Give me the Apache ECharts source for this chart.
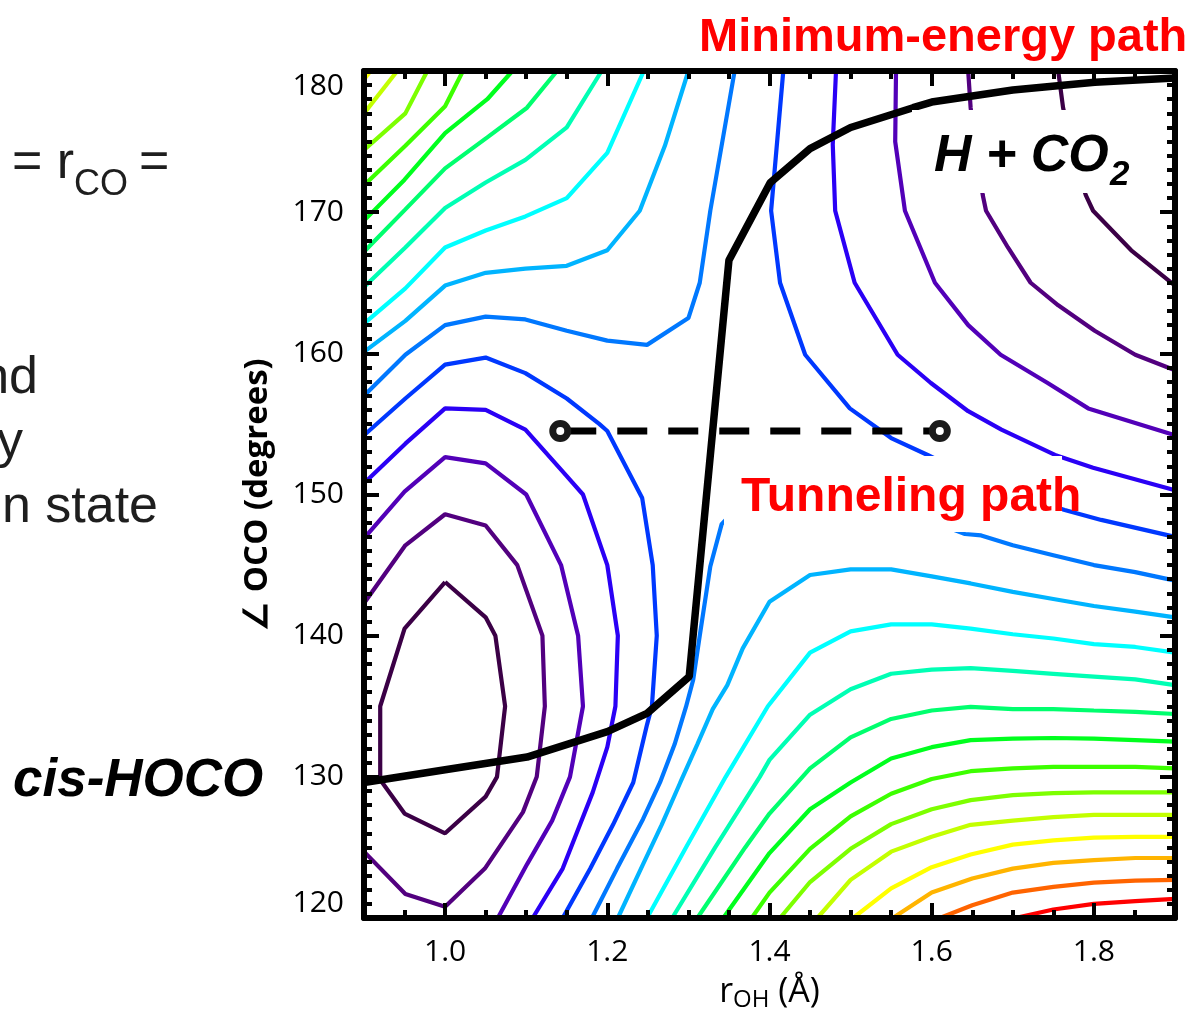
<!DOCTYPE html>
<html><head><meta charset="utf-8">
<script src="https://cdn.jsdelivr.net/npm/echarts@6/dist/echarts.min.js"></script>
<style>html,body{margin:0;padding:0;background:#fff}#c{width:1198px;height:1018px}</style>
</head><body><div id="c"></div>
<script>
// ---- axis ticks ----
const xMajorTicks = [1.0, 1.2, 1.4, 1.6, 1.8];
const xMinorTicks = [0.95, 1.05, 1.1, 1.15, 1.25, 1.3, 1.35, 1.45, 1.5, 1.55, 1.65, 1.7, 1.75, 1.85];
const yTickLabels = [120, 130, 140, 150, 160, 170, 180];

// ---- contour levels (r_OH in Å, angle OCO in degrees), lowest energy first ----
const cisL1 = [[1.0,143.8],[0.95,140.5],[0.92,135],[0.92,129.8],[0.95,127.4],[1.0,126.0],[1.05,128.6],[1.064,130.0],[1.074,135],[1.062,140],[1.05,141.3],[1.0,143.8]];
const hL1 = [[1.756,180],[1.762,177.4],[1.777,173.7],[1.79,171.2],[1.799,170.1],[1.846,167.3],[1.9,164.8]];

const cisL2 = [[0.9,142.3],[0.951,146.4],[1.0,148.6],[1.05,147.8],[1.089,145.0],[1.12,140],[1.123,135],[1.113,130],[1.096,127.5],[1.049,123.5],[1.0,120.8],[0.951,121.7],[0.9,124.7]];
const hL2 = [[1.645,180],[1.648,177.4],[1.656,173.7],[1.663,171.2],[1.667,170.1],[1.694,167.5],[1.722,165.0],[1.756,163.4],[1.801,161.6],[1.851,159.9],[1.9,158.8]];

const cisL3 = [[0.9,146.9],[0.95,150.2],[1.0,152.65],[1.05,152.2],[1.1,150],[1.143,145],[1.164,140],[1.17,135],[1.154,130],[1.132,126.9],[1.101,123.8],[1.065,120]];
const hL3 = [[1.556,180],[1.555,175],[1.567,170.1],[1.604,165],[1.645,162],[1.685,159.9],[1.743,157.9],[1.793,156.1],[1.9,154.2]];

const cisL4 = [[0.9,150.8],[0.951,153.6],[1.0,156.1],[1.05,156.0],[1.099,154.6],[1.15,151.3],[1.17,150],[1.2,145],[1.213,140],[1.21,135],[1.2,132.1],[1.182,128.9],[1.145,123.5],[1.108,120]];
const hL4 = [[1.482,180],[1.478,174.8],[1.481,170.1],[1.505,165],[1.558,159.9],[1.599,157.9],[1.645,155.9],[1.686,154.6],[1.752,152.8],[1.799,151.9],[1.9,150.3]];

const cisL5 = [[0.9,154.2],[0.951,156.8],[1.0,159.2],[1.05,159.7],[1.099,158.6],[1.15,156.8],[1.19,155],[1.2,154.5],[1.243,149.75],[1.256,145],[1.261,140],[1.255,135],[1.249,133.7],[1.232,129.6],[1.207,126.6],[1.179,123.5],[1.145,120]];
const hL5 = [[1.417,180],[1.402,170.1],[1.413,165],[1.444,159.9],[1.499,156.1],[1.55,154.0],[1.595,152.8],[1.647,151.3],[1.699,150.1],[1.764,148.9],[1.809,148.2],[1.9,147.0]];

const upL6 = [[0.9,157.0],[0.951,159.9],[1.0,162.0],[1.05,162.6],[1.099,162.4],[1.15,161.6],[1.2,160.9],[1.249,160.6],[1.3,162.5],[1.314,165],[1.327,170.1],[1.357,180]];
const loL6 = [[1.181,120],[1.212,123.5],[1.244,127.0],[1.265,129.6],[1.283,132.3],[1.297,134.95],[1.306,136.9],[1.314,140],[1.327,144.9],[1.341,147.9],[1.364,149.3],[1.4,148.9],[1.5,149.3],[1.6,148.1],[1.641,147.2],[1.661,147.1],[1.7,146.4],[1.75,145.7],[1.8,145.0],[1.851,144.5],[1.9,143.9]];

const upL7 = [[0.9,160.1],[0.951,162.3],[1.0,164.8],[1.05,165.7],[1.099,166.0],[1.15,166.2],[1.2,167.3],[1.24,170.1],[1.271,174.7],[1.3,180]];
const loL7 = [[1.213,120],[1.244,123.8],[1.267,126.6],[1.29,129.6],[1.311,132.3],[1.33,134.8],[1.348,136.5],[1.367,139.1],[1.4,142.4],[1.45,144.3],[1.5,144.7],[1.55,144.7],[1.6,144.2],[1.648,143.7],[1.7,143.1],[1.75,142.6],[1.8,142.1],[1.851,141.7],[1.9,141.3]];

const upL8 = [[0.9,162.1],[0.951,164.6],[1.0,167.5],[1.05,168.7],[1.099,169.7],[1.15,171.0],[1.2,174.2],[1.245,180]];
const loL8 = [[1.249,120],[1.297,125],[1.346,130],[1.398,135],[1.45,138.8],[1.5,140.3],[1.55,140.8],[1.6,140.8],[1.648,140.5],[1.7,140.1],[1.75,139.8],[1.8,139.4],[1.851,139.2],[1.9,138.8]];

const upL9 = [[0.9,164.7],[0.951,167.5],[1.0,170.3],[1.05,172.1],[1.099,173.7],[1.15,176.0],[1.193,180]];
const loL9 = [[1.28,120],[1.333,125],[1.388,130],[1.4,131.2],[1.45,134.4],[1.5,136.2],[1.55,137.3],[1.6,137.6],[1.648,137.7],[1.7,137.5],[1.75,137.3],[1.8,137.1],[1.851,136.9],[1.9,136.5]];

const upL10 = [[0.9,167.2],[0.951,170.2],[1.0,173.1],[1.052,175.3],[1.101,177.4],[1.138,180]];
const loL10 = [[1.311,120],[1.37,125],[1.4,127.4],[1.45,130.6],[1.5,132.8],[1.55,134.1],[1.6,134.7],[1.648,134.95],[1.7,134.8],[1.75,134.8],[1.8,134.7],[1.851,134.6],[1.9,134.45]];

const upL11 = [[0.9,169.4],[0.95,172.3],[1.0,175.6],[1.052,178.0],[1.083,180]];
const loL11 = [[1.343,120],[1.4,124.6],[1.45,127.7],[1.5,129.6],[1.55,131.3],[1.6,132.1],[1.648,132.6],[1.7,132.7],[1.75,132.75],[1.8,132.7],[1.851,132.6],[1.9,132.5]];

const upL12 = [[0.9,171.9],[0.951,174.7],[1.0,177.5],[1.022,180]];
const loL12 = [[1.378,120],[1.4,121.8],[1.45,124.9],[1.5,127.2],[1.55,128.8],[1.6,129.85],[1.648,130.4],[1.7,130.6],[1.75,130.7],[1.8,130.7],[1.851,130.7],[1.9,130.6]];

const upL13 = [[0.9,174.4],[0.951,177.0],[0.978,180]];
const loL13 = [[1.413,120],[1.45,122.55],[1.5,124.9],[1.55,126.65],[1.6,127.7],[1.648,128.35],[1.7,128.7],[1.75,128.85],[1.8,128.9],[1.851,128.9],[1.9,128.9]];

const upL14 = [[0.9,177.0],[0.941,180]];
const loL14 = [[1.459,120],[1.5,122.7],[1.55,124.7],[1.6,125.75],[1.648,126.6],[1.7,126.9],[1.75,127.15],[1.8,127.3],[1.851,127.3],[1.9,127.3]];

const upL15 = [[0.9,179.4],[0.908,180]];
const loL15 = [[1.503,120],[1.55,122.1],[1.6,123.6],[1.648,124.5],[1.7,125.2],[1.75,125.5],[1.8,125.7],[1.851,125.75],[1.9,125.75]];

const loL16 = [[1.552,120],[1.6,121.8],[1.65,122.8],[1.7,123.5],[1.75,123.9],[1.8,124.1],[1.851,124.25],[1.9,124.25]];
const loL17 = [[1.61,120],[1.65,120.9],[1.7,121.8],[1.75,122.2],[1.8,122.5],[1.851,122.65],[1.9,122.7]];
const loL18 = [[1.703,120],[1.75,120.6],[1.8,121.0],[1.851,121.2],[1.9,121.35]];

// minimum-energy path and tunneling path
const mepPath = [[0.9,129.6],[1.0,130.5],[1.101,131.4],[1.2,133.2],[1.249,134.5],[1.301,137.1],[1.35,166.6],[1.401,172.1],[1.45,174.5],[1.5,176.0],[1.577,177.4],[1.6,177.8],[1.7,178.65],[1.801,179.2],[1.9,179.5]];
const tunnelPath = [[1.142,154.5],[1.61,154.5]];

// ---- styles ----
const levelColors = ['#3b0046','#52007f','#5200b8','#2a00f5','#0038ff','#0078ff','#00b4ff','#00ffff','#00ffb4','#00ff6e','#00ff1e','#3cff00','#7dff00','#c3ff00','#ffff00','#ffb400','#ff6400','#ff0000'];
const contourPieces = [
  [cisL1, hL1], [cisL2, hL2], [cisL3, hL3], [cisL4, hL4], [cisL5, hL5],
  [upL6, loL6], [upL7, loL7], [upL8, loL8], [upL9, loL9], [upL10, loL10],
  [upL11, loL11], [upL12, loL12], [upL13, loL13], [upL14, loL14], [upL15, loL15],
  [loL16], [loL17], [loL18]
];

const series = [];
contourPieces.forEach((pieces, i) => {
  pieces.forEach(d => series.push({
    type: 'line', data: d, showSymbol: false, symbol: 'none', silent: true, z: 2,
    lineStyle: { color: levelColors[i], width: 4.2 }
  }));
});
series.push({
  type: 'line', data: mepPath, showSymbol: false, symbol: 'none', silent: true, z: 3,
  lineStyle: { color: '#000', width: 7.5 }
});
series.push({
  type: 'line', data: tunnelPath, symbol: 'circle', symbolSize: 15, showSymbol: true, silent: true, z: 4,
  lineStyle: { color: '#000', width: 7, type: [30, 21], dashOffset: 45 },
  itemStyle: { color: '#fff', borderColor: '#1a1a1a', borderWidth: 7 }
});

const lab = { fontFamily: 'Open Sans', fontSize: 30, color: '#000' };
const axLine = { show: true, lineStyle: { color: '#000', width: 6 } };
function xAx(pos, major, labels) {
  return {
    type: 'value', min: 0.9, max: 1.9, position: pos, z: 20,
    axisLine: major ? axLine : { show: false },
    axisTick: { show: true, inside: true, length: major ? 15 : 8, customValues: major ? xMajorTicks : xMinorTicks, lineStyle: { color: '#000', width: 4 } },
    axisLabel: labels ? Object.assign({ show: true, margin: 19, customValues: xMajorTicks, formatter: v => v.toFixed(1) }, lab) : { show: false },
    splitLine: { show: false }
  };
}
function yAx(pos, labels) {
  return {
    type: 'value', min: 120, max: 180, interval: 10, position: pos, z: 20,
    axisLine: axLine,
    axisTick: { show: true, inside: true, length: 15, lineStyle: { color: '#000', width: 4 } },
    minorTick: { show: true, splitNumber: 10, length: 8, lineStyle: { color: '#000', width: 4 } },
    axisLabel: labels ? Object.assign({ show: true, margin: 20, verticalAlignMinLabel: 'bottom', verticalAlignMaxLabel: 'top', formatter: v => yTickLabels.includes(v) ? String(v) : '' }, lab) : { show: false },
    splitLine: { show: false }, minorSplitLine: { show: false }
  };
}
const xAxes = [xAx('bottom', true, true), xAx('bottom', false, false), xAx('top', true, false), xAx('top', false, false)];
xAxes[0].name = '{r|r}{s|OH}{r| (Å)}';
xAxes[0].nameLocation = 'middle';
xAxes[0].nameGap = 54;
xAxes[0].nameTextStyle = { rich: {
  r: { fontFamily: 'Open Sans', fontSize: 34, color: '#000', lineHeight: 40 },
  s: { fontFamily: 'Open Sans', fontSize: 24, color: '#000', lineHeight: 18, verticalAlign: 'bottom' }
} };
const yAxes = [yAx('left', true), yAx('right', false)];
yAxes[0].name = '∠ OCO (degrees)';
yAxes[0].nameLocation = 'middle';
yAxes[0].nameRotate = 90;
yAxes[0].nameGap = 90;
yAxes[0].nameTextStyle = { fontFamily: 'Open Sans', fontSize: 33, fontWeight: 'bold', color: '#000' };

const txt = (text, x, y, font, fill, align) => ({
  type: 'text', z: 101, silent: true,
  style: { text, x, y, font, fill, textAlign: align || 'left', textVerticalAlign: 'middle' }
});
const graphic = [
  { type: 'rect', z: 100, silent: true, shape: { x: 724, y: 456, width: 338, height: 76 }, style: { fill: '#fff' } },
  { type: 'rect', z: 100, silent: true, shape: { x: 912, y: 110, width: 238, height: 83 }, style: { fill: '#fff' } },
  txt('Minimum-energy path', 699, 38, 'bold 47px "Liberation Sans"', '#ff0000'),
  txt('Tunneling path', 741, 498, 'bold 48px "Liberation Sans"', '#ff0000'),
  txt('H + CO', 934, 157, 'italic bold 52px "Liberation Sans"', '#000'),
  txt('2', 1110, 175, 'italic bold 35px "Liberation Sans"', '#000'),
  txt('cis-HOCO', 13, 781, 'italic bold 53px "Liberation Sans"', '#000'),
  txt('= r', 12, 164, '52px "Liberation Sans"', '#1e1e1e'),
  txt('CO', 74, 185, '36px "Liberation Sans"', '#1e1e1e'),
  txt('=', 139, 164, '52px "Liberation Sans"', '#1e1e1e'),
  txt('nd', 38, 379, '52px "Liberation Sans"', '#1e1e1e', 'right'),
  txt('y', 23, 443, '52px "Liberation Sans"', '#1e1e1e', 'right'),
  txt('n state', 158, 508, '52px "Liberation Sans"', '#1e1e1e', 'right')
];

const chart = echarts.init(document.getElementById('c'), null, { renderer: 'canvas' });
chart.setOption({
  animation: false,
  backgroundColor: '#fff',
  grid: { left: 364, right: 23, top: 71, bottom: 100, containLabel: false },
  xAxis: xAxes,
  yAxis: yAxes,
  series: series,
  graphic: graphic
});
</script></body></html>
